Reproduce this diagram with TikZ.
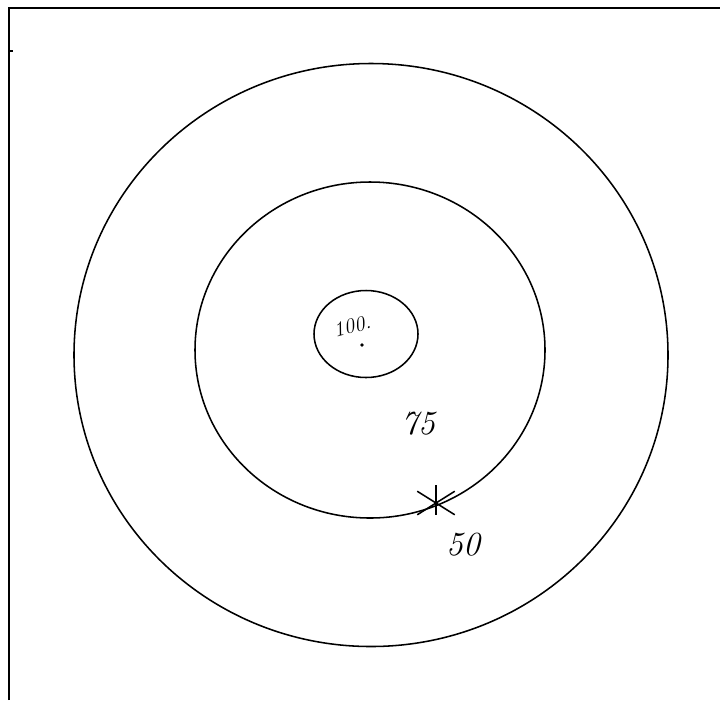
\documentclass[tikz,border=0pt]{standalone}
\usepackage{tikz}
\usetikzlibrary{shapes.geometric,shapes.misc}

\begin{document}
\begin{tikzpicture}[x=0.025cm, y=-0.025cm]
  \def\px{0.025cm}
  \tikzset{
    ring/.style={draw, ellipse, line width=1.1pt, inner sep=0pt},
    score/.style={font=\fontsize{24}{28}\selectfont\itshape, inner sep=0pt},
  }
  \useasboundingbox (0,0) rectangle (720,700);
  % frame, open on the right and at the bottom
  \draw[line width=1.6pt] (9,700) -- (9,8) -- (720,8);
  \draw[line width=0.8pt] (9,51) -- (13,51);
  % target rings
  \node[ring, minimum width=594*\px, minimum height=583*\px] (outer) at (371,355) {};
  \node[ring, minimum width=350*\px, minimum height=336*\px] (middle) at (370,350) {};
  \node[ring, minimum width=104*\px, minimum height=87*\px] (inner) at (366,334) {};
  \fill (362,345) circle (1.8);
  % scores
  \node[score, font=\fontsize{15}{18}\selectfont\itshape, rotate=15] (bull) at (352,326) {100.};
  \node[score] (seventyfive) at (418,424) {75};
  \node[draw, cross out, line width=1.1pt, minimum width=36*\px, minimum height=22*\px] (hit) at (436,503) {};
  \draw[line width=1.1pt] (hit.north) ++(0,-6) -- (hit.south);
  \node[score] (fifty) at (463,545) {50};
\end{tikzpicture}
\end{document}
